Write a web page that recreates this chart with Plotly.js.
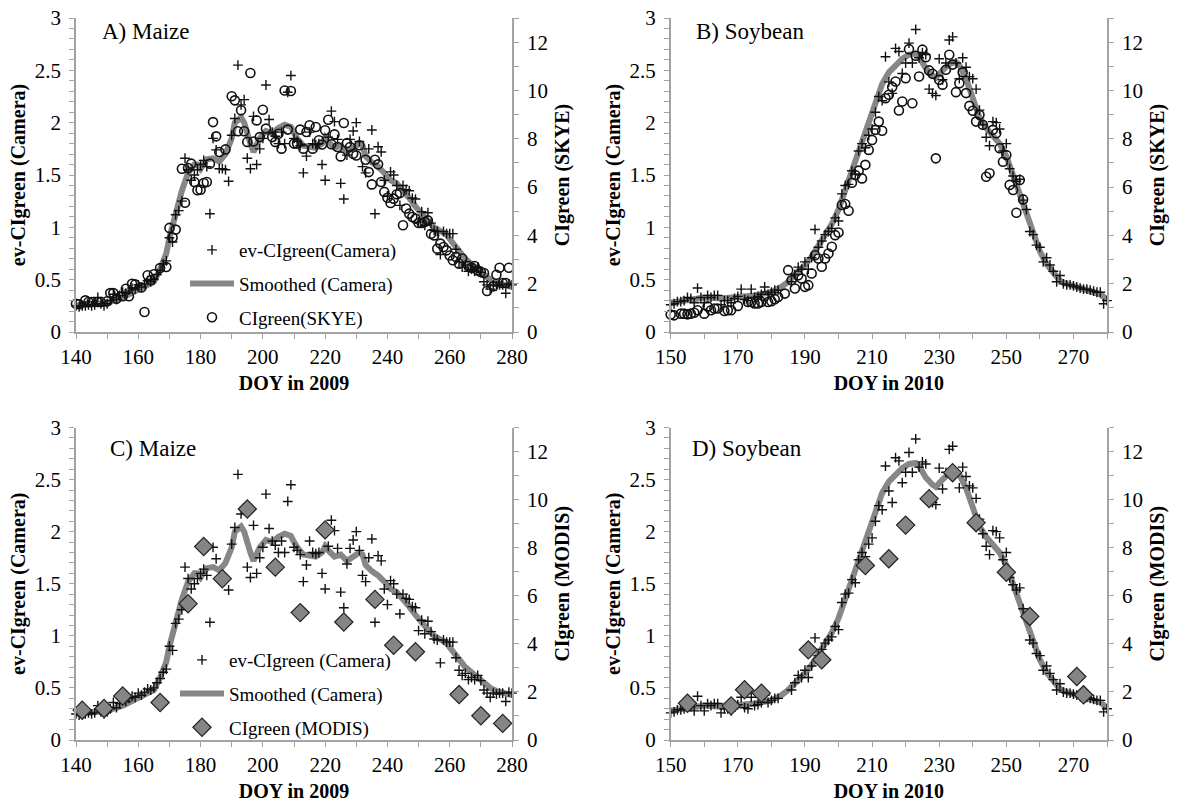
<!DOCTYPE html>
<html><head><meta charset="utf-8">
<script src="https://cdn.plot.ly/plotly-3.0.1.min.js"></script>
<style>html,body{margin:0;padding:0;background:#fff}</style>
</head><body><div id="chart" style="width:1179px;height:808px"></div>
<script>
// ---------- 2009 Maize ----------
const camDoy2009 = [140,141,142,143,144,145,146,147,148,149,150,151,152,153,154,155,156,157,158,159,160,161,162,163,164,165,166,167,168,169,170,171,172,173,174,175,176,177,178,179,180,181,182,183,184,185,186,187,188,189,190,191,192,193,194,195,196,197,198,199,200,201,202,203,204,205,206,207,208,209,210,211,212,213,214,215,216,217,218,219,220,221,222,223,224,225,226,227,228,229,230,231,232,233,234,235,236,237,238,239,240,241,242,243,244,245,246,247,248,249,250,251,252,253,254,255,256,257,258,259,260,261,262,263,264,265,266,267,268,269,270,271,272,273,274,275,276,277,278,279,280];
const cam2009 = [0.25,0.24,0.25,0.25,0.26,0.25,0.26,0.33,0.27,0.25,0.27,0.30,0.36,0.31,0.35,0.38,0.37,0.40,0.42,0.41,0.45,0.43,0.46,0.49,0.48,0.50,0.55,0.59,0.65,0.68,0.90,0.86,1.12,1.16,1.25,1.66,1.55,1.45,1.50,1.55,1.60,1.64,1.58,1.13,1.85,1.74,1.56,1.56,1.55,1.44,1.88,2.04,2.55,2.17,2.22,1.66,1.56,2.06,1.60,1.75,1.85,2.36,2.03,1.91,1.87,1.80,1.91,1.80,2.29,2.45,1.85,1.82,1.78,1.52,1.68,1.91,1.80,1.79,1.80,1.60,1.45,1.86,2.11,2.01,1.84,1.42,1.27,1.69,1.84,1.92,2.00,1.82,1.58,1.52,1.75,1.93,1.13,1.77,1.72,1.45,1.30,1.53,1.50,1.40,1.21,1.40,1.36,1.35,1.28,1.27,1.05,1.15,1.02,1.14,1.04,0.97,0.96,0.74,0.96,0.94,0.94,0.94,0.79,0.67,0.62,0.64,0.58,0.60,0.58,0.62,0.57,0.48,0.45,0.41,0.45,0.44,0.45,0.45,0.37,0.46,0.45];
const smDoy2009 = [140,145,150,155,160,163,165,167,169,170,172,174,176,178,179,180,182,184,186,188,190,191,193,194,196,197,199,201,203,205,207,209,210,211,213,215,217,219,220,221,223,225,227,229,231,232,233,235,237,239,241,243,245,247,249,251,253,255,257,259,261,263,265,267,269,271,273,275,277,280];
const sm2009 = [0.25,0.26,0.28,0.33,0.40,0.44,0.48,0.60,0.75,0.90,1.15,1.35,1.52,1.60,1.60,1.56,1.65,1.66,1.63,1.70,1.85,2.00,2.05,2.00,1.80,1.72,1.85,1.92,1.90,1.95,1.98,1.96,1.90,1.85,1.78,1.77,1.76,1.80,1.86,1.82,1.76,1.78,1.72,1.76,1.80,1.78,1.68,1.62,1.58,1.52,1.45,1.42,1.36,1.28,1.20,1.12,1.06,1.00,0.97,0.93,0.85,0.77,0.70,0.65,0.60,0.55,0.50,0.47,0.45,0.43];
const skyeDoy2009 = [140,141,143,144,145,147,148,150,151,152,153,155,156,157,158,159,161,162,163,164,165,167,169,170,171,172,174,175,176,177,178,179,180,181,182,183,184,185,186,188,190,191,192,193,194,195,196,197,198,199,200,201,203,204,205,206,207,208,209,210,211,212,213,214,215,216,217,218,219,220,221,222,223,224,225,226,227,228,229,230,231,233,234,235,236,237,238,239,240,241,242,243,244,245,246,247,248,249,250,251,252,253,254,255,256,257,258,259,260,261,262,263,264,266,267,268,269,270,271,272,274,275,276,277,278,279];
const skye2009 = [1.17,1.15,1.31,1.24,1.24,1.24,1.24,1.27,1.61,1.61,1.38,1.48,1.79,1.48,2.00,1.97,1.84,0.83,2.35,2.14,2.39,2.65,2.69,4.31,3.91,4.24,6.76,5.35,6.79,6.97,6.21,5.87,5.89,6.17,6.21,6.97,8.69,8.10,7.45,7.56,9.76,9.59,8.31,9.18,8.31,7.87,10.72,7.89,8.76,8.07,9.20,8.42,8.07,7.87,8.21,7.59,10.00,8.38,9.98,7.80,7.80,8.38,7.59,8.28,8.56,7.59,8.49,7.94,7.76,8.35,8.79,7.77,8.18,7.66,7.27,8.65,7.82,7.66,7.38,7.31,7.73,7.13,6.62,6.11,7.13,6.94,6.21,5.80,5.56,5.34,5.52,5.70,5.75,4.42,5.11,4.90,4.76,4.69,4.51,4.51,4.55,4.62,4.07,4.00,3.45,3.66,3.52,3.38,3.17,2.97,3.11,2.83,3.04,2.73,2.66,2.73,2.55,2.48,2.44,1.70,1.89,2.37,2.66,2.03,2.03,2.66];
const modisDoy2009 = [142,149,155,167,176,181,187,195,204,212,220,226,236,242,249,263,270,277];
const modis2009 = [1.24,1.31,1.83,1.56,5.67,8.05,6.71,9.61,7.19,5.30,8.74,4.91,5.85,3.94,3.67,1.89,1.01,0.69];

// ---------- 2010 Soybean ----------
const camDoy2010 = [150,151,152,153,154,155,156,157,158,159,160,161,162,163,164,165,166,167,168,169,170,171,172,173,174,175,176,177,178,179,180,181,182,186,187,188,189,190,191,192,193,194,195,196,197,198,199,200,201,202,203,204,205,206,207,208,209,210,211,212,213,214,215,216,217,218,219,220,221,222,223,224,225,226,227,228,229,230,231,232,233,234,235,236,237,238,239,240,241,242,243,244,245,246,247,248,249,250,251,252,253,254,255,256,257,258,259,260,261,262,263,264,265,266,267,268,269,270,271,272,273,274,275,276,277,278,279,280];
const cam2010 = [0.26,0.27,0.29,0.29,0.30,0.33,0.32,0.28,0.42,0.33,0.28,0.35,0.33,0.35,0.35,0.26,0.30,0.30,0.28,0.32,0.34,0.41,0.31,0.30,0.41,0.33,0.34,0.36,0.43,0.36,0.38,0.40,0.40,0.48,0.55,0.62,0.60,0.67,0.60,0.71,0.98,0.81,0.87,0.93,0.96,0.99,1.09,1.06,1.32,1.40,1.41,1.54,1.51,1.73,1.80,1.76,1.88,1.94,2.10,2.25,2.21,2.63,2.39,2.28,2.71,2.68,2.47,2.57,2.76,2.57,2.89,2.62,2.67,2.65,2.32,2.28,2.26,2.61,2.41,2.57,2.79,2.82,2.57,2.42,2.62,2.53,2.44,2.42,2.32,2.12,1.98,1.86,1.78,2.01,2.00,1.94,1.73,1.80,1.56,1.49,1.44,1.46,1.26,1.17,0.96,0.93,0.83,0.81,0.67,0.71,0.64,0.58,0.48,0.54,0.46,0.45,0.45,0.44,0.43,0.42,0.41,0.41,0.40,0.39,0.38,0.38,0.27,0.30];
const smDoy2010 = [150,155,160,165,170,175,180,183,185,188,190,192,194,196,198,200,202,204,206,208,209,211,213,215,217,219,221,223,224,226,228,229,231,233,235,236,238,240,242,244,246,248,250,252,254,256,258,260,262,264,266,268,270,272,274,276,278,280];
const sm2010 = [0.28,0.31,0.33,0.32,0.33,0.35,0.38,0.43,0.48,0.57,0.64,0.72,0.82,0.92,1.03,1.17,1.35,1.55,1.75,1.93,2.02,2.20,2.37,2.48,2.55,2.61,2.65,2.66,2.63,2.52,2.45,2.43,2.50,2.56,2.58,2.55,2.42,2.25,2.05,1.95,1.88,1.80,1.68,1.50,1.32,1.12,0.93,0.77,0.65,0.56,0.49,0.46,0.44,0.43,0.41,0.39,0.36,0.31];
const skyeDoy2010 = [150,151,153,154,155,156,157,158,160,161,162,163,164,166,167,168,170,173,174,175,176,177,178,179,180,181,182,184,185,186,187,188,189,190,191,192,193,194,195,196,197,198,199,200,201,202,203,204,205,206,207,208,209,210,211,212,213,214,215,216,217,218,219,220,221,222,223,224,225,226,227,228,229,230,231,232,233,234,235,236,237,238,239,240,241,242,243,244,245,246,247,248,249,250,251,252,253,254,255];
const skye2010 = [0.72,0.69,0.76,0.76,0.73,0.76,0.80,0.90,0.76,1.06,0.90,0.97,0.97,0.87,0.90,0.90,1.08,1.24,1.24,1.18,1.18,1.24,1.48,1.24,1.27,1.36,1.45,1.59,2.56,2.14,1.80,2.35,2.21,1.87,1.94,2.42,3.18,3.04,2.70,3.04,3.25,3.53,4.01,4.12,5.26,5.30,5.02,6.18,6.50,6.68,6.36,6.92,7.54,7.95,8.37,8.71,8.33,9.68,9.82,10.14,10.37,9.17,9.54,10.51,11.71,9.47,11.44,10.58,11.69,11.38,10.83,10.69,7.19,10.44,10.24,10.86,11.48,11.07,9.93,10.30,10.75,9.89,9.36,9.16,8.71,8.99,8.58,6.43,6.57,8.37,8.23,7.61,7.05,7.33,6.09,5.88,4.94,6.29,5.49];
const modisDoy2010 = [155,168,172,177,191,195,208,215,220,227,234,241,250,257,271,273];
const modis2010 = [1.53,1.42,2.09,1.95,3.75,3.34,7.26,7.54,8.94,10.04,11.12,9.04,6.98,5.14,2.64,1.88];

// ---------- tick / label text ----------
const panelLabels = ['A) Maize','B) Soybean','C) Maize','D) Soybean'];
const xTitles = ['DOY in 2009','DOY in 2010'];
const yLeftTitle = 'ev-CIgreen (Camera)';
const yRightTitles = ['CIgreen (SKYE)','CIgreen (MODIS)'];

const serif = "Liberation Serif";
const axisGray = '#a3a3a3';
const lineGray = '#878787';

const plusM = {symbol:'cross-thin', size:7, line:{color:'#111', width:1.4}};
const circM = {symbol:'circle-open', size:9, color:'#111', line:{color:'#111', width:1.6}};
const diaM = {symbol:'diamond', size:14, color:'#858585', line:{color:'#222', width:1.2}};

function camTrace(x, y, xa, ya, name, leg, show){
  return {type:'scatter', mode:'markers', x, y, xaxis:xa, yaxis:ya, name, marker:plusM,
    cliponaxis:false, showlegend:show, legend:leg, legendgroup:'a'+leg, legendrank:1, hoverinfo:'x+y'};
}
function smTrace(x, y, xa, ya, name, leg, show){
  return {type:'scatter', mode:'lines', x, y, xaxis:xa, yaxis:ya, name, line:{color:lineGray, width:6},
    showlegend:show, legend:leg, legendgroup:'b'+leg, legendrank:2};
}
function ptTrace(x, y, xa, ya, name, m, leg, show){
  return {type:'scatter', mode:'markers', x, y, xaxis:xa, yaxis:ya, name, marker:m,
    cliponaxis:false, showlegend:show, legend:leg, legendgroup:'c'+leg, legendrank:3};
}

const data = [
  smTrace(smDoy2009, sm2009, 'x', 'y', 'Smoothed (Camera)', 'legend', true),
  camTrace(camDoy2009, cam2009, 'x', 'y', 'ev-CIgreen(Camera)', 'legend', true),
  ptTrace(skyeDoy2009, skye2009, 'x', 'y2', 'CIgreen(SKYE)', circM, 'legend', true),

  smTrace(smDoy2010, sm2010, 'x2', 'y3', 'Smoothed (Camera)', 'legend', false),
  camTrace(camDoy2010, cam2010, 'x2', 'y3', 'ev-CIgreen (Camera)', 'legend', false),
  ptTrace(skyeDoy2010, skye2010, 'x2', 'y4', 'CIgreen (SKYE)', circM, 'legend', false),

  smTrace(smDoy2009, sm2009, 'x3', 'y5', 'Smoothed (Camera)', 'legend2', true),
  camTrace(camDoy2009, cam2009, 'x3', 'y5', 'ev-CIgreen (Camera)', 'legend2', true),
  ptTrace(modisDoy2009, modis2009, 'x3', 'y6', 'CIgreen (MODIS)', diaM, 'legend2', true),

  smTrace(smDoy2010, sm2010, 'x4', 'y7', 'Smoothed (Camera)', 'legend2', false),
  camTrace(camDoy2010, cam2010, 'x4', 'y7', 'ev-CIgreen (Camera)', 'legend2', false),
  ptTrace(modisDoy2010, modis2010, 'x4', 'y8', 'CIgreen (MODIS)', diaM, 'legend2', false)
];

const W = 1179, H = 808;
const colA = [76/W, 512/W], colB = [670.7/W, 1107/W];
const rowTop = [1-332/H, 1-18/H], rowBot = [1-740/H, 1-427.5/H];

const tickFont = {family:serif, size:21, color:'#000'};
const titleFont = {family:serif, size:20, color:'#000'};
const common = {showgrid:false, zeroline:false, showline:true, linecolor:axisGray, linewidth:1.5,
  ticks:'outside', ticklen:5, tickwidth:1.3, tickcolor:axisGray, tickfont:tickFont, fixedrange:true};

function xAxis(domain, anchor, r0, title){
  return Object.assign({}, common, {domain, anchor, range:[r0,280], tick0:r0, dtick:20,
    minor:{dtick:10, ticks:'outside', ticklen:5, tickcolor:axisGray, tickwidth:1.3},
    title:{text:'<b>'+title+'</b>', font:titleFont, standoff:8}});
}
function yLeft(domain, anchor){
  return Object.assign({}, common, {domain, anchor, range:[0,3], dtick:0.5, ticklabelstandoff:4,
    minor:{dtick:0.1, ticks:'outside', ticklen:5, tickcolor:axisGray, tickwidth:1.3},
    title:{text:'<b>'+yLeftTitle+'</b>', font:titleFont, standoff:4}});
}
function yRight(overlay, anchor, title){
  return Object.assign({}, common, {overlaying:overlay, anchor, side:'right', range:[0,13], dtick:2, ticklabelstandoff:4,
    minor:{dtick:1, ticks:'outside', ticklen:5, tickcolor:axisGray, tickwidth:1.3},
    title:{text:'<b>'+title+'</b>', font:titleFont, standoff:8}});
}

const labelPos = [[100,31],[694,31],[108,448],[690,448]];
const annotations = panelLabels.map((t,i)=>({text:t, xref:'paper', yref:'paper', x:labelPos[i][0]/W, y:1-labelPos[i][1]/H,
  xanchor:'left', yanchor:'middle', showarrow:false, font:{family:serif, size:23, color:'#000'}}));

const legendBase = {font:{family:serif, size:19, color:'#000'}, bgcolor:'rgba(0,0,0,0)', borderwidth:0,
  traceorder:'grouped', tracegroupgap:6, itemwidth:44, xanchor:'left', yanchor:'top', itemclick:false, itemdoubleclick:false};

const layout = {
  width:W, height:H, margin:{l:0, r:0, t:0, b:0}, paper_bgcolor:'#fff', plot_bgcolor:'rgba(0,0,0,0)',
  font:{family:serif, size:19, color:'#000'},
  showlegend:true, hovermode:'closest',
  xaxis: xAxis(colA, 'y', 140, xTitles[0]),
  yaxis: yLeft(rowTop, 'x'),
  yaxis2: yRight('y', 'x', yRightTitles[0]),
  xaxis2: xAxis(colB, 'y3', 150, xTitles[1]),
  yaxis3: yLeft(rowTop, 'x2'),
  yaxis4: yRight('y3', 'x2', yRightTitles[0]),
  xaxis3: xAxis(colA, 'y5', 140, xTitles[0]),
  yaxis5: yLeft(rowBot, 'x3'),
  yaxis6: yRight('y5', 'x3', yRightTitles[1]),
  xaxis4: xAxis(colB, 'y7', 150, xTitles[1]),
  yaxis7: yLeft(rowBot, 'x4'),
  yaxis8: yRight('y7', 'x4', yRightTitles[1]),
  legend: Object.assign({}, legendBase, {x:185/W, y:1-231/H}),
  legend2: Object.assign({}, legendBase, {x:175/W, y:1-641/H}),
  annotations
};

Plotly.newPlot('chart', data, layout, {displayModeBar:false, staticPlot:false, responsive:false});
</script>
</body></html>
